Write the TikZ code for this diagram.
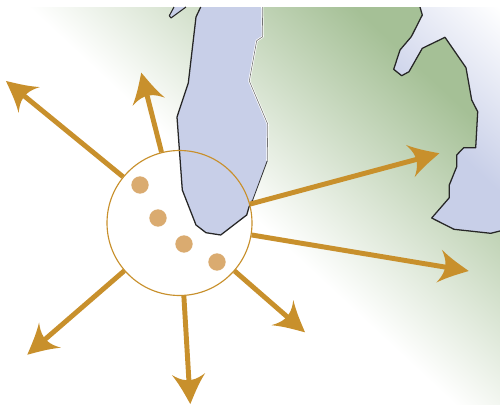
\documentclass[tikz,border=0pt]{standalone}
\usepackage{xcolor}
\definecolor{landgreen}{RGB}{165,192,150}
\definecolor{lakeblue}{RGB}{200,207,232}
\definecolor{spokegold}{RGB}{200,144,44}
\definecolor{seedtan}{RGB}{218,171,112}
\pgfdeclarehorizontalshading{landshade}{100bp}{color(0bp)=(white); color(49.6bp)=(white); color(63.6bp)=(landgreen); color(100bp)=(landgreen)}
\pgfdeclarehorizontalshading{watershade}{100bp}{color(0bp)=(lakeblue); color(61.3bp)=(lakeblue); color(69.8bp)=(white); color(100bp)=(white)}
\pgfdeclarearrow{
  name=Barb,
  setup code={\pgfarrowssettipend{0pt}\pgfarrowssetbackend{-22.5pt}\pgfarrowssetlineend{-16.5pt}\pgfarrowssetvisualbackend{-17.5pt}},
  drawing code={
    \pgfpathmoveto{\pgfpoint{0pt}{0pt}}
    \pgfpathcurveto{\pgfpoint{-7pt}{3.5pt}}{\pgfpoint{-14pt}{6.5pt}}{\pgfpoint{-22.5pt}{12.5pt}}
    \pgfpathcurveto{\pgfpoint{-20.5pt}{9.5pt}}{\pgfpoint{-18.5pt}{6pt}}{\pgfpoint{-18pt}{2pt}}
    \pgfpathlineto{\pgfpoint{-18pt}{-2pt}}
    \pgfpathcurveto{\pgfpoint{-18.5pt}{-6pt}}{\pgfpoint{-20.5pt}{-9.5pt}}{\pgfpoint{-22.5pt}{-12.5pt}}
    \pgfpathcurveto{\pgfpoint{-14pt}{-6.5pt}}{\pgfpoint{-7pt}{-3.5pt}}{\pgfpoint{0pt}{0pt}}
    \pgfpathclose
    \pgfusepathqfill
  }
}
\newcommand{\eastshore}{(420,7) -- (422.3,15) -- (411.3,36.7) -- (400,50) -- (393.7,69.3) -- (401.7,75.7) -- (409,71.7) -- (422.3,48.3) -- (445,37.3) -- (466,67.7) -- (471.7,100) -- (477.7,111.7) -- (475.7,147.7) -- (463.7,147.7) -- (456.7,155) -- (456.7,166.7) -- (449.3,185) -- (449.3,197.7) -- (431.7,218) -- (454,229.3) -- (490.7,233.3) -- (500,231)}
\begin{document}
\begin{tikzpicture}[
    x=0.75pt, y=-0.75pt,
    shore/.style={draw=black!85, line width=0.95pt, line join=round},
    hubdisc/.style={circle, fill=white, minimum size=108.75pt, inner sep=0pt},
    hubring/.style={circle, draw=spokegold, line width=0.85pt, minimum size=108.75pt, inner sep=0pt},
    seed/.style={circle, fill=seedtan, minimum size=13pt, inner sep=0pt},
    spoke/.style={draw=spokegold, line width=3.7pt, -{Barb}, fill=spokegold}
]
\useasboundingbox (0,0) rectangle (500,404);

% land and open water
\begin{scope}
\clip (0,7) rectangle (500,404);
\shade[shading=landshade, shading angle=47] (-150,-195) rectangle (650,605);
\begin{scope}
\clip \eastshore -- (500,7) -- cycle;
\shade[shading=watershade, shading angle=47] (-150,-195) rectangle (650,605);
\end{scope}
\draw[shore] \eastshore;
\end{scope}

\node[hubdisc] (hubdisc) at (179.5,223) {};

% the lake
\fill[lakeblue] (200.7,7) -- (196,17) -- (188.3,83) -- (177,117) -- (182.3,190) -- (196,225) -- (206,232.7) -- (220.7,235) -- (246.7,215) -- (249,207) -- (252.7,200) -- (267.3,160.7) -- (267.7,124) -- (249.3,81) -- (256.7,40.7) -- (262.7,36.7) -- (262.3,7) -- cycle;
\draw[white, line width=1.6pt, line join=round] (267.3,160.7) -- (267.7,124) -- (249.3,81) -- (256.7,40.7) -- (262.7,36.7) -- (262.3,7);
\draw[black!55, line width=0.45pt, line join=round] (267.3,160.7) -- (267.7,124) -- (249.3,81) -- (256.7,40.7) -- (262.7,36.7) -- (262.3,7);
\draw[shore] (200.7,7) -- (196,17) -- (188.3,83) -- (177,117) -- (182.3,190) -- (196,225) -- (206,232.7) -- (220.7,235) -- (246.7,215) -- (249,207) -- (252.7,200);
\draw[black!80, line width=0.6pt] (252.7,200) -- (267.3,160.7);
\filldraw[fill=lakeblue, draw=black!85, line width=0.8pt, line join=round] (174,7) -- (169.3,15.7) -- (171,18) -- (186,7);

\node[hubring] (hub) at (179.5,223) {};

\foreach \i/\x/\y in {1/140/185, 2/158/218, 3/184/244, 4/217/262}
    \node[seed] (seed\i) at (\x,\y) {};

\coordinate (tipnw) at (6,81);
\coordinate (tipn) at (141.3,72.7);
\coordinate (tipe) at (439.3,153.3);
\coordinate (tipse) at (468.7,271);
\coordinate (tipss) at (305,332.3);
\coordinate (tips) at (190.3,404);
\coordinate (tipsw) at (27.3,354.7);

\foreach \t in {tipnw, tipn, tipe, tipse, tipss, tips, tipsw}
    \draw[spoke] (hub) -- (\t);
\end{tikzpicture}
\end{document}
